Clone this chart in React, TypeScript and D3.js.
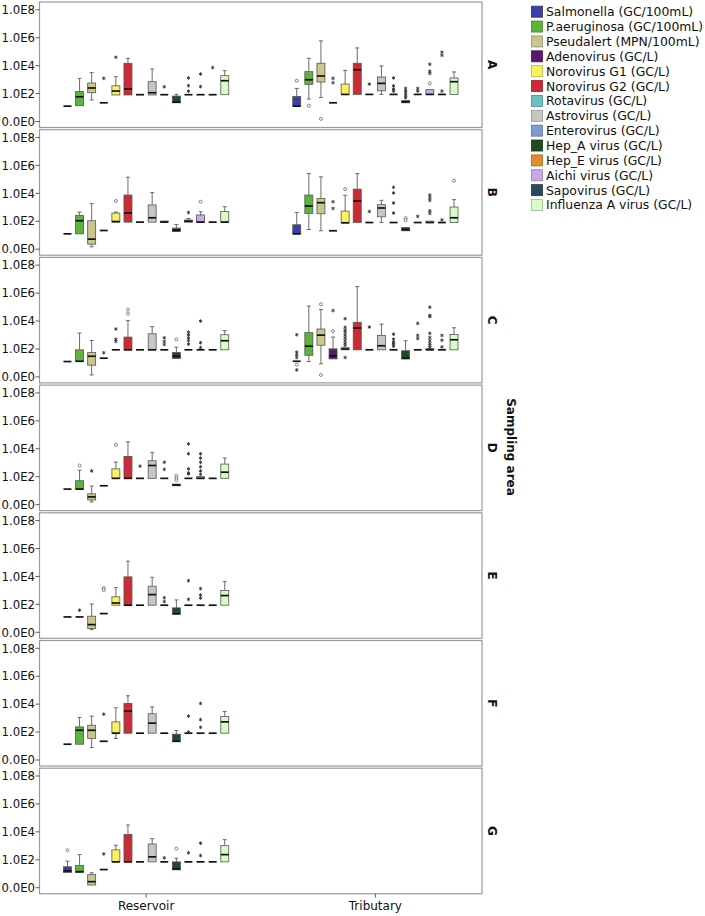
import * as React from "react";
import * as d3 from "d3";

// each box: [lo, q1, median, q3, hi, circles, stars] in log10 units
type Box = [number, number, number, number, number, number[]?, number[]?];

const series = [
  "Salmonella (GC/100mL)",
  "P.aeruginosa (GC/100mL)",
  "Pseudalert (MPN/100mL)",
  "Adenovirus (GC/L)",
  "Norovirus G1 (GC/L)",
  "Norovirus G2 (GC/L)",
  "Rotavirus (GC/L)",
  "Astrovirus (GC/L)",
  "Enterovirus (GC/L)",
  "Hep_A virus (GC/L)",
  "Hep_E virus (GC/L)",
  "Aichi virus (GC/L)",
  "Sapovirus (GC/L)",
  "Influenza A virus (GC/L)",
];
const seriesColors = [
  "#3b3fa6", "#5db43d", "#cbc68c", "#5a1a6c", "#f7f25e", "#cc2b36", "#6cc0c0",
  "#c6c6c6", "#7f9ad5", "#1f4a24", "#e08f2c", "#c9a8ea", "#2b4a5e", "#d8fcc8",
];
const sites = ["Reservoir", "Tributary"];
const areas = ["A", "B", "C", "D", "E", "F", "G"];
const tickValues = [0, 2, 4, 6, 8];
const tickLabels = ["0.0E0", "1.0E2", "1.0E4", "1.0E6", "1.0E8"];

const resA: Box[] = [
  [1.1, 1.1, 1.1, 1.1, 1.1],
  [1.13, 1.13, 1.77, 2.15, 3.09],
  [1.54, 2.06, 2.4, 2.76, 3.5],
  [1.34, 1.34, 1.34, 1.34, 1.34, [], [3.09]],
  [1.9, 1.9, 2.18, 2.56, 3.21, [], [4.6]],
  [1.9, 1.9, 2.33, 4.17, 4.52],
  [1.92, 1.92, 1.92, 1.92, 1.92],
  [1.9, 1.9, 2.06, 2.85, 3.76],
  [1.92, 1.92, 1.92, 1.92, 1.92, [], [2.49]],
  [1.34, 1.34, 1.39, 1.82, 1.94],
  [1.92, 1.92, 1.92, 1.92, 1.92, [], [3.12, 2.57, 2.17]],
  [1.92, 1.92, 1.92, 1.92, 1.92, [], [3.4, 2.5]],
  [1.92, 1.92, 1.92, 1.92, 1.92, [], [3.86]],
  [1.92, 1.92, 2.92, 3.28, 3.64],
];
const tribA: Box[] = [
  [1.1, 1.1, 1.1, 1.8, 2.37, [2.92]],
  [1.61, 2.66, 2.99, 3.57, 4.52, [1.13]],
  [1.72, 2.83, 3.26, 4.17, 5.77, [0.19]],
  [1.34, 1.34, 1.34, 1.34, 1.34, [], [3.09, 2.78]],
  [1.94, 1.94, 1.94, 2.68, 3.66],
  [1.94, 1.94, 3.71, 4.17, 5.27],
  [1.94, 1.94, 1.94, 1.94, 1.94, [], [2.68]],
  [1.94, 2.2, 2.73, 3.19, 3.98],
  [1.94, 1.94, 1.94, 1.94, 1.94, [], [3.12, 2.55, 2.33, 2.17]],
  [1.34, 1.34, 1.4, 1.5, 1.5, [], [1.7, 1.85, 2.01, 2.18, 2.37]],
  [1.94, 1.94, 1.94, 1.94, 1.94, [], [2.37, 2.18]],
  [1.94, 1.94, 1.94, 2.28, 2.28, [2.73], [3.44, 3.6, 4.1]],
  [1.94, 1.94, 1.94, 1.94, 1.94, [], [2.18, 4.74, 4.96]],
  [1.94, 1.94, 2.85, 3.12, 3.55],
];
const resB: Box[] = [
  [1.1, 1.1, 1.1, 1.1, 1.1],
  [1.1, 1.1, 2.04, 2.42, 2.66],
  [0.17, 0.36, 0.72, 2.04, 3.26],
  [1.34, 1.34, 1.34, 1.34, 1.34],
  [1.94, 1.94, 1.98, 2.59, 2.66, [3.45]],
  [1.94, 1.94, 2.59, 3.88, 5.15],
  [1.94, 1.94, 1.94, 1.94, 1.94],
  [1.94, 1.94, 2.25, 3.17, 4.05],
  [1.94, 1.94, 1.94, 2.02, 2.02],
  [1.27, 1.27, 1.35, 1.51, 1.77],
  [1.94, 1.94, 2.0, 2.09, 2.2, [], [2.63]],
  [1.94, 1.94, 1.94, 2.45, 2.68, [3.4]],
  [1.94, 1.94, 1.94, 1.94, 1.94],
  [1.94, 1.94, 1.94, 2.7, 3.04],
];
const tribB: Box[] = [
  [1.1, 1.1, 1.1, 1.75, 2.63],
  [1.41, 2.56, 3.09, 3.88, 5.42],
  [1.32, 2.54, 3.33, 3.64, 5.18],
  [1.32, 1.32, 1.32, 1.32, 1.32, [], [3.4, 2.92]],
  [1.89, 1.89, 1.89, 2.73, 3.86, [4.3]],
  [1.91, 1.91, 3.45, 4.3, 5.42],
  [1.91, 1.91, 1.91, 1.91, 1.91, [], [2.7]],
  [1.91, 2.32, 2.95, 3.19, 3.5],
  [1.91, 1.91, 1.91, 1.91, 1.91, [], [4.43, 4.03, 3.31, 2.59]],
  [1.32, 1.32, 1.4, 1.55, 1.55, [2.23, 2.07]],
  [1.91, 1.91, 1.91, 1.91, 1.91, [], [2.35]],
  [1.91, 1.91, 1.91, 2.01, 2.01, [], [3.88, 3.69, 3.5, 2.75, 2.56]],
  [1.91, 1.91, 1.91, 1.91, 1.91, [], [2.1]],
  [1.91, 1.91, 2.25, 3.02, 3.55, [4.91]],
];
const resC: Box[] = [
  [1.1, 1.1, 1.1, 1.1, 1.1],
  [1.1, 1.1, 1.12, 1.94, 3.14],
  [0.14, 0.84, 1.48, 1.75, 2.61],
  [1.34, 1.34, 1.34, 1.34, 1.34, [], [1.73]],
  [1.94, 1.94, 1.94, 1.94, 1.94, [], [3.43, 2.7, 2.54]],
  [1.94, 1.94, 1.94, 2.85, 4.03, [4.82, 4.53]],
  [1.94, 1.94, 1.94, 1.94, 1.94],
  [1.94, 1.94, 1.94, 3.09, 3.6],
  [1.94, 1.94, 1.94, 1.94, 1.94, [], [2.8, 2.54, 2.32]],
  [1.32, 1.32, 1.48, 1.75, 2.13, [2.68]],
  [1.94, 1.94, 1.94, 1.94, 1.94, [], [3.2, 3.0, 2.8, 2.6, 2.35]],
  [1.94, 1.94, 1.94, 1.94, 1.94, [], [4.0, 2.45, 2.1]],
  [1.94, 1.94, 1.94, 1.94, 1.94],
  [1.94, 1.94, 2.59, 3.02, 3.31],
];
const tribC: Box[] = [
  [1.12, 1.12, 1.12, 1.12, 1.12, [0.88], [3.02, 1.77, 1.58, 1.39, 0.5]],
  [1.1, 1.55, 2.2, 3.17, 5.08],
  [0.94, 2.27, 2.99, 3.43, 4.82, [5.2, 0.14]],
  [1.29, 1.29, 1.5, 2.01, 2.85, [3.28], [4.75]],
  [1.94, 1.94, 2.0, 2.09, 2.09, [], [4.17, 3.55, 3.35, 3.19, 2.99, 2.8, 2.61, 2.42, 2.25, 1.39]],
  [1.94, 1.94, 3.5, 3.91, 6.47],
  [1.94, 1.94, 1.94, 1.94, 1.94, [], [3.57]],
  [1.94, 1.94, 2.23, 2.97, 3.78],
  [1.94, 1.94, 1.94, 1.94, 1.94, [], [3.06, 2.7, 2.5, 2.35, 2.2]],
  [1.32, 1.32, 1.32, 1.87, 2.59],
  [1.94, 1.94, 1.94, 1.94, 1.94, [], [3.83, 2.97, 2.75]],
  [1.94, 1.94, 1.94, 2.02, 2.02, [], [4.99, 4.4, 4.32, 3.12, 2.82, 2.6, 2.4, 2.25, 2.1]],
  [1.94, 1.94, 1.94, 1.94, 1.94, [], [2.97, 2.63, 2.15]],
  [1.94, 1.94, 2.66, 3.04, 3.52],
];
const resD: Box[] = [
  [1.11, 1.11, 1.11, 1.11, 1.11],
  [1.11, 1.11, 1.11, 1.71, 2.46, [2.8]],
  [0.19, 0.33, 0.55, 0.77, 1.33, [], [2.41]],
  [1.35, 1.35, 1.35, 1.35, 1.35],
  [1.88, 1.88, 1.88, 2.56, 3.04, [4.28]],
  [1.88, 1.88, 1.88, 3.45, 4.49],
  [1.88, 1.88, 1.88, 1.88, 1.88, [], [2.75]],
  [1.88, 1.88, 2.8, 3.14, 3.74],
  [1.88, 1.88, 1.88, 1.88, 1.88, [], [3.03, 2.52]],
  [1.35, 1.35, 1.4, 1.47, 1.47, [2.07, 1.9, 1.75]],
  [1.88, 1.88, 1.88, 1.88, 1.88, [], [4.35, 3.64, 2.56, 2.27, 2.2]],
  [1.88, 1.88, 1.88, 2.0, 2.0, [], [3.64, 3.33, 3.03, 2.71, 2.41, 2.17]],
  [1.88, 1.88, 1.88, 1.88, 1.88],
  [1.88, 1.88, 2.32, 2.9, 3.33],
];
const resE: Box[] = [
  [1.1, 1.1, 1.1, 1.1, 1.1],
  [1.1, 1.1, 1.1, 1.1, 1.1, [], [1.58]],
  [0.19, 0.27, 0.55, 1.15, 2.03],
  [1.34, 1.34, 1.34, 1.34, 1.34, [3.17, 3.02]],
  [1.94, 1.94, 2.1, 2.54, 3.2],
  [1.94, 1.94, 1.94, 3.97, 5.09],
  [1.94, 1.94, 1.94, 1.94, 1.94],
  [1.94, 1.94, 2.7, 3.3, 3.94],
  [1.94, 1.94, 1.94, 1.94, 1.94, [], [2.48, 2.2]],
  [1.32, 1.32, 1.32, 1.75, 2.32],
  [1.94, 1.94, 1.94, 1.94, 1.94, [], [3.7, 2.36]],
  [1.94, 1.94, 1.94, 1.94, 1.94, [], [3.13, 2.67, 2.45]],
  [1.94, 1.94, 1.94, 1.94, 1.94],
  [1.94, 1.94, 2.63, 2.99, 3.63],
];
const resF: Box[] = [
  [1.13, 1.13, 1.13, 1.13, 1.13],
  [1.13, 1.13, 2.13, 2.37, 3.05],
  [0.89, 1.54, 2.13, 2.49, 3.14],
  [1.34, 1.34, 1.34, 1.34, 1.34, [], [3.28]],
  [1.54, 1.92, 1.92, 2.73, 3.74],
  [1.92, 1.92, 3.5, 4.05, 4.6],
  [1.92, 1.92, 1.92, 1.92, 1.92],
  [1.92, 1.92, 2.64, 3.31, 3.81],
  [1.92, 1.92, 1.92, 1.92, 1.92],
  [1.34, 1.34, 1.34, 1.85, 2.11],
  [1.92, 1.92, 1.92, 1.92, 1.92, [], [3.14, 2.0]],
  [1.92, 1.92, 1.92, 1.92, 1.92, [], [4.05, 2.89, 2.34]],
  [1.92, 1.92, 1.92, 1.92, 1.92],
  [1.92, 1.92, 2.73, 3.12, 3.47],
];
const resG: Box[] = [
  [1.09, 1.09, 1.2, 1.5, 1.9, [2.68]],
  [1.09, 1.09, 1.15, 1.59, 2.37],
  [0.19, 0.19, 0.43, 0.95, 1.07],
  [1.3, 1.3, 1.3, 1.3, 1.3, [], [2.42]],
  [1.85, 1.85, 1.85, 2.71, 3.04],
  [1.85, 1.85, 1.85, 3.82, 4.49],
  [1.85, 1.85, 1.85, 1.85, 1.85],
  [1.85, 1.85, 2.21, 3.13, 3.51],
  [1.85, 1.85, 1.85, 1.85, 1.85, [], [2.14]],
  [1.28, 1.28, 1.35, 1.85, 2.11, [2.8]],
  [1.85, 1.85, 1.85, 1.85, 1.85, [], [2.5]],
  [1.85, 1.85, 1.85, 1.85, 1.85, [], [3.19, 2.3]],
  [1.85, 1.85, 1.85, 1.85, 1.85],
  [1.85, 1.85, 2.37, 3.01, 3.44],
];
const empty: Box[] = [];

const areaData: Box[][][] = [
  [resA, tribA],
  [resB, tribB],
  [resC, tribC],
  [resD, empty],
  [resE, empty],
  [resF, empty],
  [resG, empty],
];

const W = 705;
const H = 916;
const plotLeft = 39.5;
const plotRight = 482;
const top0 = 2;
const pitch = 127.7;
const panelH = 125.5;
const font = "DejaVu Sans, sans-serif";

const starPath = d3.symbol().type((d3 as any).symbolAsterisk ?? d3.symbolCross).size(9)();

export default function App() {
  const x = d3.scalePoint().domain(sites).range([plotLeft, plotRight]).padding(0.465);
  const inner = d3
    .scaleBand()
    .domain(series)
    .range([-84.7, 84.7])
    .paddingInner(0.34)
    .paddingOuter(0.17);
  const bw = inner.bandwidth();

  const drawBox = (b: Box, cx: number, y: d3.ScaleLinear<number, number>, j: number, key: string) => {
    const [lo, q1, med, q3, hi, circles = [], stars = []] = b;
    const cap = 2;
    return (
      <g key={key}>
        {hi > q3 && (
          <g stroke="#6b6b6b" strokeWidth={1}>
            <line x1={cx} x2={cx} y1={y(hi)} y2={y(q3)} />
            <line x1={cx - cap} x2={cx + cap} y1={y(hi)} y2={y(hi)} />
          </g>
        )}
        {lo < q1 && (
          <g stroke="#6b6b6b" strokeWidth={1}>
            <line x1={cx} x2={cx} y1={y(q1)} y2={y(lo)} />
            <line x1={cx - cap} x2={cx + cap} y1={y(lo)} y2={y(lo)} />
          </g>
        )}
        {q3 > q1 && (
          <rect
            x={cx - bw / 2}
            y={y(q3)}
            width={bw}
            height={y(q1) - y(q3)}
            fill={seriesColors[j]}
            stroke="#555"
            strokeWidth={0.8}
          />
        )}
        <line x1={cx - bw / 2} x2={cx + bw / 2} y1={y(med)} y2={y(med)} stroke="#111" strokeWidth={1.7} />
        {circles.map((v, k) => (
          <circle key={"c" + k} cx={cx} cy={y(v)} r={1.5} fill="#fff" stroke="#666" strokeWidth={0.8} />
        ))}
        {stars.map((v, k) => (
          <path
            key={"s" + k}
            d={starPath || ""}
            transform={`translate(${cx},${y(v)})`}
            fill="none"
            stroke="#333"
            strokeWidth={0.9}
          />
        ))}
      </g>
    );
  };

  const bottom = top0 + (areas.length - 1) * pitch + panelH;

  return (
    <svg
      width={W}
      height={H}
      style={{ position: "absolute", left: 0, top: 0, fontFamily: font, background: "#fff" }}
    >
      {areas.map((area, i) => {
        const top = top0 + i * pitch;
        const y = d3.scaleLinear().domain([0, 8]).range([top + 119.5, top + 7.8]);
        return (
          <g key={area}>
            <rect
              x={plotLeft}
              y={top}
              width={plotRight - plotLeft}
              height={panelH}
              fill="#fff"
              stroke="#9a9a9a"
              strokeWidth={1.2}
            />
            {tickValues.map((t, k) => (
              <g key={t}>
                <line x1={plotLeft - 4} x2={plotLeft} y1={y(t)} y2={y(t)} stroke="#333" strokeWidth={0.8} />
                <text x={plotLeft - 4.5} y={y(t)} dy="0.36em" textAnchor="end" fontSize={11.7} fill="#111">
                  {tickLabels[k]}
                </text>
              </g>
            ))}
            {sites.map((site, s) =>
              areaData[i][s].map((b, j) =>
                drawBox(b, (x(site) as number) + (inner(series[j]) as number) + bw / 2, y, j, `${site}-${j}`)
              )
            )}
            <text
              transform={`translate(492,${top + panelH / 2}) rotate(90)`}
              textAnchor="middle"
              dy="0.35em"
              fontSize={12}
              fontWeight="bold"
              fill="#111"
            >
              {area}
            </text>
          </g>
        );
      })}
      <text
        transform={`translate(511,447) rotate(90)`}
        textAnchor="middle"
        dy="0.35em"
        fontSize={12}
        fontWeight="bold"
        fill="#111"
      >
        Sampling area
      </text>
      {sites.map((site) => (
        <g key={site}>
          <line x1={x(site)} x2={x(site)} y1={bottom} y2={bottom + 4} stroke="#333" strokeWidth={0.8} />
          <text x={x(site)} y={bottom + 16} textAnchor="middle" fontSize={12} fill="#111">
            {site}
          </text>
        </g>
      ))}
      {series.map((name, i) => {
        const cy = 11.7 + i * 14.87;
        return (
          <g key={name}>
            <rect
              x={531.5}
              y={cy - 5.5}
              width={11}
              height={11}
              fill={seriesColors[i]}
              stroke={d3.color(seriesColors[i])!.darker(0.9).toString()}
              strokeWidth={0.8}
            />
            <text x={546} y={cy} dy="0.36em" fontSize={12.4} fill="#111">
              {name}
            </text>
          </g>
        );
      })}
    </svg>
  );
}
